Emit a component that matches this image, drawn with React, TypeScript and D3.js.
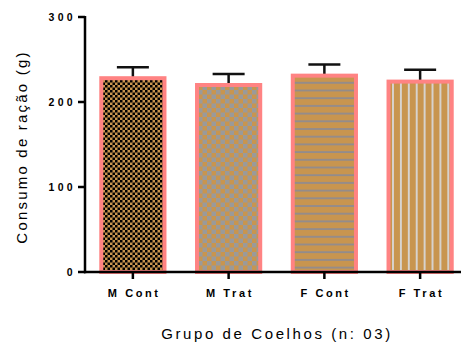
import React from "react";
import * as d3 from "d3";

const categories = ["M Cont", "M Trat", "F Cont", "F Trat"];
const means = [228, 220, 231, 224];
const errors = [13, 13, 13, 14];
const yTicks = [0, 100, 200, 300];
const patternIds = ["pChk1", "pChk2", "pHor", "pVer"];

const W = 461, H = 345;
const TAN = "#C8954F";
const PINK = "#FF8383";

export default function App() {
  const x = d3.scaleBand<string>().domain(categories).range([85, 468]).paddingInner(0.34).paddingOuter(0.17);
  const y = d3.scaleLinear().domain([0, 300]).range([272, 17]);
  const bw = x.bandwidth();
  const font = "'Liberation Sans', Arial, sans-serif";
  return (
    <svg width={W} height={H} style={{ position: "absolute", left: 0, top: 0 }}>
      <defs>
        <pattern id="pChk1" width={5} height={5} patternUnits="userSpaceOnUse">
          <rect width={5} height={5} fill={TAN} />
          <rect width={2.5} height={2.5} fill="#000" />
          <rect x={2.5} y={2.5} width={2.5} height={2.5} fill="#000" />
        </pattern>
        <pattern id="pChk2" width={9} height={9} patternUnits="userSpaceOnUse">
          <rect width={9} height={9} fill={TAN} />
          <rect width={4.5} height={4.5} fill="#9A9A9A" />
          <rect x={4.5} y={4.5} width={4.5} height={4.5} fill="#9A9A9A" />
        </pattern>
        <pattern id="pHor" width={8} height={7.7} patternUnits="userSpaceOnUse">
          <rect width={8} height={7.7} fill={TAN} />
          <rect y={5} width={8} height={1.6} fill="#8A8A96" />
        </pattern>
        <pattern id="pVer" width={7.9} height={8} patternUnits="userSpaceOnUse">
          <rect width={7.9} height={8} fill={TAN} />
          <rect x={5} width={1.8} height={8} fill="#D8D8D8" />
        </pattern>
      </defs>
      {categories.map((c, i) => {
        const x0 = x(c)!;
        const cx = x0 + bw / 2;
        const top = y(means[i]);
        const eTop = y(means[i] + errors[i]);
        return (
          <g key={c}>
            <line x1={cx} x2={cx} y1={top} y2={eTop} stroke="#111" strokeWidth={2.5} />
            <line x1={cx - 16} x2={cx + 16} y1={eTop} y2={eTop} stroke="#111" strokeWidth={2.5} />
            <rect x={x0} y={top} width={bw} height={y(0) - top} fill={`url(#${patternIds[i]})`} stroke={PINK} strokeWidth={4} />
          </g>
        );
      })}
      {/* y axis */}
      <line x1={85} x2={85} y1={16} y2={273.2} stroke="#000" strokeWidth={2.5} />
      {yTicks.map((t) => (
        <g key={t}>
          <line x1={78} x2={85} y1={y(t)} y2={y(t)} stroke="#000" strokeWidth={2.5} />
          <text x={76} y={y(t) + 3.7} textAnchor="end" fontFamily={font} fontWeight="bold" fontSize={10.5} letterSpacing={3.3}>{t}</text>
        </g>
      ))}
      {/* x axis */}
      <line x1={84} x2={470} y1={272} y2={272} stroke="#000" strokeWidth={2.5} />
      {categories.map((c) => {
        const cx = x(c)! + bw / 2;
        return (
          <g key={c}>
            <line x1={cx} x2={cx} y1={272} y2={279} stroke="#000" strokeWidth={2.5} />
            <text x={cx + 1.3} y={297} textAnchor="middle" fontFamily={font} fontWeight="bold" fontSize={11} letterSpacing={2.6}>{c}</text>
          </g>
        );
      })}
      <text transform={`translate(27,147) rotate(-90)`} textAnchor="middle" fontFamily={font} fontSize={15} letterSpacing={2.2}>Consumo de ração (g)</text>
      <text x={277} y={339} textAnchor="middle" fontFamily={font} fontSize={15} letterSpacing={2.6}>Grupo de Coelhos (n: 03)</text>
    </svg>
  );
}
